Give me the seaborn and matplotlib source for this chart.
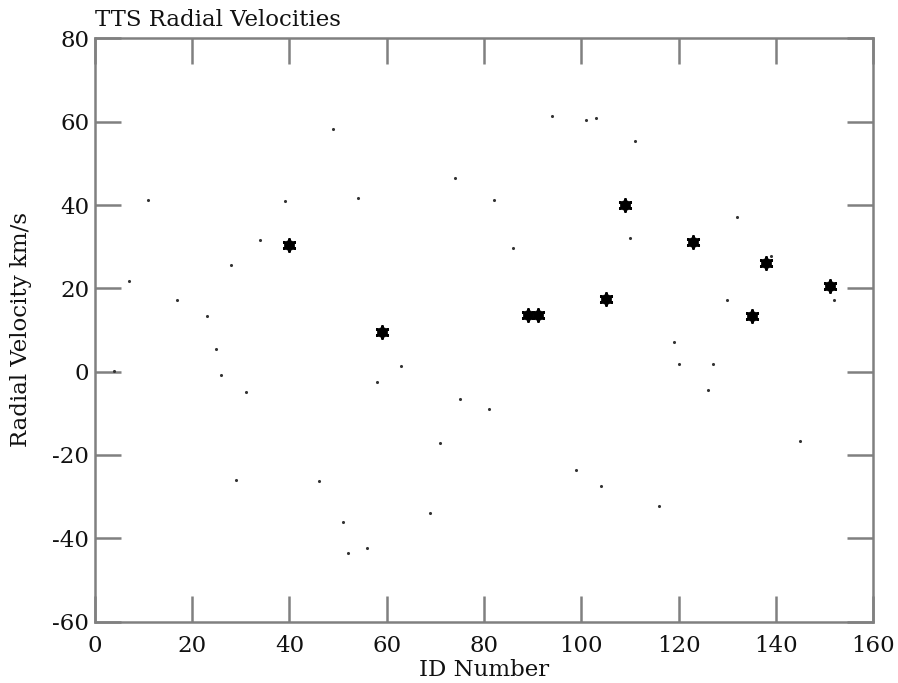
import matplotlib
matplotlib.use("Agg")
import matplotlib.pyplot as plt
import seaborn as sns
import pandas as pd

# Big asterisk points (highlighted stars)
big_id = [40, 59, 89, 91, 105, 109, 123, 135, 138, 151]
big_rv = [30.5, 9.6, 13.5, 13.5, 17.5, 40.1, 31.2, 13.3, 26.2, 20.5]

# Small dot points
small_id = [4, 7, 11, 17, 23, 25, 26, 28, 29, 31, 34, 39, 46, 49, 51, 52, 54,
            56, 58, 63, 69, 71, 74, 75, 81, 82, 86, 94, 99, 101, 103, 104,
            110, 111, 116, 119, 120, 126, 127, 130, 132, 139, 145, 152]
small_rv = [0.2, 21.8, 41.2, 17.1, 13.3, 5.4, -0.8, 25.7, -25.9, -4.9, 31.6,
            41.0, -26.2, 58.2, -36.1, -43.5, 41.7, -42.3, -2.5, 1.3, -33.9,
            -17.1, 46.5, -6.6, -8.9, 41.1, 29.7, 61.3, -23.7, 60.3, 60.8,
            -27.4, 32.0, 55.3, -32.3, 7.2, 1.9, -4.4, 1.9, 17.2, 37.2, 27.8,
            -16.7, 17.3]

big = pd.DataFrame({"id": big_id, "rv": big_rv})
small = pd.DataFrame({"id": small_id, "rv": small_rv})

sns.set_style("ticks")
plt.rcParams["font.family"] = ["DejaVu Serif"]
plt.rcParams["axes.unicode_minus"] = False

fig = plt.figure(figsize=(8.98, 6.83), dpi=100)
ax = fig.add_axes([0.1055, 0.0899, 0.867, 0.8539])

sns.scatterplot(data=small, x="id", y="rv", ax=ax, s=5, color="#333333",
                marker="o", linewidth=0, legend=False)
sns.scatterplot(data=big, x="id", y="rv", ax=ax, s=60, color="black",
                marker="o", linewidth=0, legend=False)
sns.scatterplot(data=big, x="id", y="rv", ax=ax, s=75, color="black",
                marker=(6, 2, 0), linewidth=2.0, edgecolor="black", legend=False)

ax.set_xlim(0, 160)
ax.set_ylim(-60, 80)
ax.set_xticks(range(0, 161, 20))
ax.set_yticks(range(-60, 81, 20))

spine_c = "#808080"
for s in ax.spines.values():
    s.set_visible(True)
    s.set_color(spine_c)
    s.set_linewidth(1.8)
ax.tick_params(direction="in", length=19, width=1.8, color=spine_c,
               top=True, right=True, labelsize=16.5, labelcolor="#111111")
ax.tick_params(axis="x", pad=10)
ax.tick_params(axis="y", pad=4)

ax.set_xlabel("ID Number", fontsize=16.5, color="#111111")
ax.xaxis.set_label_coords(0.5, -0.064)
ax.set_ylabel("Radial Velocity km/s", fontsize=16.5, color="#111111")
ax.yaxis.set_label_coords(-0.08, 0.5)
ax.set_title("TTS Radial Velocities", loc="left", fontsize=16.5,
             color="#111111", pad=9)

fig.savefig("out.png", dpi=100)
